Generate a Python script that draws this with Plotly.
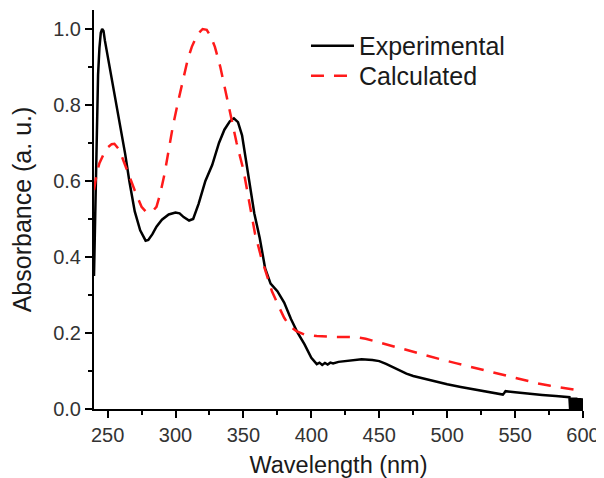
import plotly.graph_objects as go

# Experimental spectrum
exp_x = [240, 241, 242, 243, 244, 245, 246, 247, 248, 250, 253, 256, 260, 263, 266, 270, 274, 278, 280,
         283, 286, 290, 295, 300, 303, 306, 310, 313, 317, 322, 327, 332, 336, 340, 343, 346, 349, 352,
         355, 358, 362, 366, 370, 375, 380, 385, 390, 395, 400, 402, 404, 406, 408, 410, 412, 414, 416,
         420, 425, 430, 437, 445, 450, 455, 460, 465, 470, 475, 482, 490, 500, 510, 520, 530, 541, 542,
         543, 550, 560, 570, 580, 590,
         590.5, 591, 591.5, 592, 592.5, 593, 593.5, 594, 594.5, 595, 595.5, 596, 596.5, 597, 597.5,
         598, 598.5, 599, 599.5, 600]
exp_y = [0.35, 0.55, 0.76, 0.88, 0.95, 0.99, 1.0, 0.995, 0.97, 0.93, 0.87, 0.81, 0.74, 0.67, 0.6, 0.52,
         0.47, 0.443, 0.445, 0.46, 0.48, 0.498, 0.512, 0.517, 0.515, 0.505, 0.496, 0.5, 0.54, 0.6, 0.642,
         0.7, 0.735, 0.757, 0.765, 0.755, 0.72, 0.648, 0.58, 0.515, 0.45, 0.37, 0.33, 0.31, 0.28, 0.237,
         0.2, 0.17, 0.135, 0.125, 0.118, 0.122, 0.116, 0.121, 0.117, 0.122, 0.12, 0.124, 0.126, 0.129,
         0.131, 0.129, 0.126, 0.119, 0.11, 0.1, 0.093, 0.087, 0.081, 0.073, 0.065, 0.058, 0.051, 0.044,
         0.038, 0.042, 0.047, 0.044, 0.04, 0.037, 0.034, 0.031,
         0.0, 0.03, 0.0, 0.03, 0.0, 0.03, 0.0, 0.03, 0.0, 0.03, 0.0, 0.029, 0.0, 0.029, 0.0,
         0.029, 0.0, 0.028, 0.0, 0.028]

# Calculated spectrum
calc_x = [240, 242, 244, 247, 250, 253, 255, 258, 261, 265, 270, 275, 278, 280, 283, 286, 289, 292, 295,
          298, 302, 306, 309, 312, 316, 320, 323, 326, 329, 333, 336, 341, 345, 350, 355, 358.5, 363, 367,
          371, 376, 380, 384, 389, 395, 404, 415, 425, 433, 440, 448, 456, 465, 475, 487, 497, 507, 517,
          527, 537, 546, 556, 566, 576, 586, 600]
calc_y = [0.576, 0.62, 0.647, 0.67, 0.688, 0.697, 0.698, 0.685, 0.66, 0.62, 0.575, 0.532, 0.52, 0.517,
          0.52, 0.532, 0.57, 0.62, 0.68, 0.743, 0.81, 0.874, 0.92, 0.953, 0.985, 1.0, 0.998, 0.98, 0.953,
          0.9, 0.848, 0.765, 0.7, 0.629, 0.53, 0.462, 0.4, 0.357, 0.31, 0.27, 0.24, 0.218, 0.205, 0.196,
          0.192, 0.19, 0.19, 0.189, 0.185, 0.177, 0.168, 0.16, 0.15, 0.138, 0.129, 0.12, 0.111, 0.103,
          0.094, 0.085, 0.077, 0.068, 0.061, 0.055, 0.047]

FONT = "Liberation Sans, Arial, sans-serif"

fig = go.Figure()
fig.add_trace(go.Scatter(x=exp_x, y=exp_y, mode="lines", name="Experimental", legend="legend",
                         line=dict(color="black", width=2.5)))
fig.add_trace(go.Scatter(x=calc_x, y=calc_y, mode="lines", name="Calculated", legend="legend2",
                         line=dict(color="#ff1a1a", width=2.5, dash="13px,10px")))

axis_common = dict(showline=True, linecolor="black", linewidth=2, showgrid=False, zeroline=False,
                   ticks="outside", ticklen=7, tickwidth=2, tickcolor="black",
                   tickfont=dict(family=FONT, size=20, color="#333333"),
                   mirror=False, automargin=False)

fig.update_xaxes(range=[240, 600], dtick=50, tick0=250,
                 minor=dict(ticks="outside", ticklen=4, tickwidth=1.5, tickcolor="black", dtick=25, tick0=250),
                 title=dict(text="Wavelength (nm)", font=dict(family=FONT, size=23.5, color="#1a1a1a"), standoff=14),
                 **axis_common)
fig.update_yaxes(range=[0, 1.05], dtick=0.2, tick0=0, tickformat=".1f",
                 minor=dict(ticks="outside", ticklen=4, tickwidth=1.5, tickcolor="black", dtick=0.1),
                 title=dict(text="Absorbance (a. u.)", font=dict(family=FONT, size=25, color="#1a1a1a"), standoff=17),
                 **axis_common)

legend_style = dict(xanchor="left", yanchor="middle",
                    font=dict(family=FONT, size=25, color="#1a1a1a"),
                    bgcolor="rgba(0,0,0,0)", itemwidth=43)

fig.update_layout(width=596, height=470,
                  margin=dict(l=86, r=21, t=2, b=69),
                  paper_bgcolor="white", plot_bgcolor="white",
                  legend=dict(x=0.4335, y=0.9098, **legend_style),
                  legend2=dict(x=0.4335, y=0.8346, **legend_style),
                  showlegend=True)

fig.write_html("out.html")
